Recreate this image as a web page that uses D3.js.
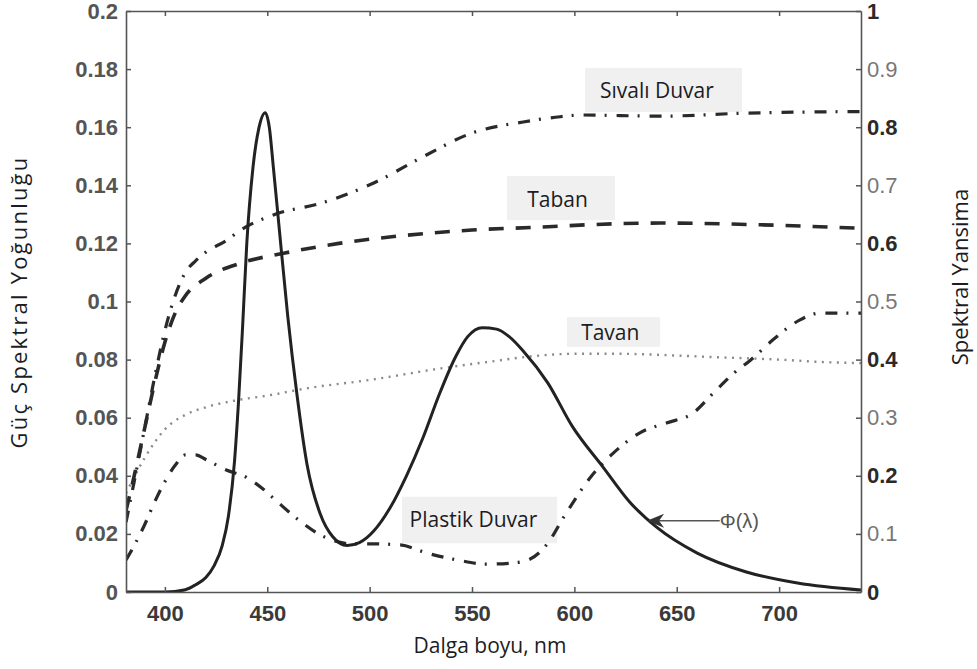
<!DOCTYPE html>
<html>
<head>
<meta charset="utf-8">
<script src="https://cdn.jsdelivr.net/npm/d3@7"></script>
<style>
  body { margin: 0; background: #fff; }
  .tick line { stroke: #555; stroke-width: 1.5; }
  .domain { stroke: #555; stroke-width: 1.6; }
</style>
</head>
<body>
<div id="chart"></div>
<script>
'use strict';

// wavelength (nm) and values
var phiNm  = [381, 400, 410, 415, 420, 424, 428, 431, 434, 436, 438, 440, 443, 446, 449, 451, 453, 456, 460, 464.5, 469.4, 475.8, 482, 489, 495, 502, 510, 518, 526, 534, 542, 548, 555, 562, 568, 575, 587, 599, 614, 627, 640, 660, 684, 709, 740];
var phiVal = [0, 0, 0.0008, 0.0025, 0.005, 0.009, 0.016, 0.026, 0.045, 0.066, 0.092, 0.12, 0.146, 0.16, 0.165, 0.16, 0.146, 0.124, 0.095, 0.068, 0.044, 0.027, 0.019, 0.016, 0.017, 0.021, 0.029, 0.04, 0.053, 0.068, 0.081, 0.088, 0.091, 0.0905, 0.088, 0.083, 0.072, 0.057, 0.043, 0.031, 0.0224, 0.0134, 0.0069, 0.0031, 0.0007];

var sivaliNm = [381, 385, 390, 395, 400, 405, 410, 415, 420, 430, 437, 453, 477, 502, 526, 550, 575, 593, 603, 642, 682, 740];
var sivaliR  = [0.12, 0.19, 0.28, 0.37, 0.45, 0.51, 0.55, 0.57, 0.585, 0.605, 0.623, 0.649, 0.67, 0.704, 0.749, 0.79, 0.809, 0.818, 0.821, 0.819, 0.824, 0.827];

var tabanNm = [381, 385, 390, 395, 400, 405, 410, 420, 437, 458, 485, 518, 550, 583, 606, 642, 691, 740];
var tabanR  = [0.14, 0.2, 0.28, 0.36, 0.43, 0.48, 0.51, 0.54, 0.566, 0.583, 0.6, 0.614, 0.623, 0.628, 0.632, 0.635, 0.632, 0.626];

var tavanNm = [381, 390, 400, 410, 420, 435, 450, 470, 500, 535, 560, 580, 600, 620, 650, 670, 700, 720, 740];
var tavanR  = [0.17, 0.23, 0.28, 0.305, 0.318, 0.33, 0.338, 0.351, 0.365, 0.385, 0.397, 0.406, 0.41, 0.41, 0.407, 0.404, 0.4, 0.396, 0.394];

var plastikNm = [381, 385, 390, 395, 400, 405, 410, 415, 420, 430, 440, 447, 455, 465, 475, 483, 490, 500, 515, 528, 543, 557, 570, 578, 587, 595, 608, 619, 632, 645, 658, 668, 678, 686, 697, 710, 720, 740];
var plastikR  = [0.055, 0.08, 0.115, 0.155, 0.19, 0.218, 0.236, 0.236, 0.228, 0.21, 0.197, 0.18, 0.155, 0.125, 0.1, 0.088, 0.083, 0.083, 0.081, 0.067, 0.055, 0.048, 0.05, 0.056, 0.084, 0.13, 0.198, 0.239, 0.274, 0.291, 0.308, 0.343, 0.377, 0.399, 0.434, 0.468, 0.48, 0.48];

var xTicks = [400, 450, 500, 550, 600, 650, 700];
var leftTicks = [0, 0.02, 0.04, 0.06, 0.08, 0.1, 0.12, 0.14, 0.16, 0.18, 0.2];
var rightTicks = [0, 0.1, 0.2, 0.3, 0.4, 0.5, 0.6, 0.7, 0.8, 0.9, 1];

var margin = { top: 11, right: 116, bottom: 77, left: 126 };
var width = 977 - margin.left - margin.right;
var height = 669 - margin.top - margin.bottom;

var x = d3.scaleLinear().domain([381, 740]).range([0, width]);
var yL = d3.scaleLinear().domain([0, 0.2]).range([height, 0]);
var yR = d3.scaleLinear().domain([0, 1]).range([height, 0]);

var svg = d3.select('#chart').append('svg')
    .attr('width', 977)
    .attr('height', 669);

var g = svg.append('g')
    .attr('transform', 'translate(' + margin.left + ',' + margin.top + ')');

svg.append('defs').append('clipPath')
    .attr('id', 'plot')
  .append('rect')
    .attr('width', width)
    .attr('height', height);

// label boxes sit under the curves
var labels = [
  { text: 'Sıvalı Duvar', x0: 605.2, x1: 681.9, y0: 0.902, y1: 0.826, tx: 612.5, ty: 0.85 },
  { text: 'Taban', x0: 567.1, x1: 619.9, y0: 0.716, y1: 0.64, tx: 577, ty: 0.663 },
  { text: 'Tavan', x0: 596.4, x1: 641.9, y0: 0.473, y1: 0.422, tx: 603.3, ty: 0.434 },
  { text: 'Plastik Duvar', x0: 515.8, x1: 591.6, y0: 0.164, y1: 0.084, tx: 519.5, ty: 0.112 }
];

var lab = g.append('g').selectAll('g')
    .data(labels)
    .enter().append('g');

lab.append('rect')
    .attr('x', function(d) { return x(d.x0); })
    .attr('y', function(d) { return yR(d.y0); })
    .attr('width', function(d) { return x(d.x1) - x(d.x0); })
    .attr('height', function(d) { return yR(d.y1) - yR(d.y0); })
    .attr('fill', '#f0f0f0');

lab.append('text')
    .attr('x', function(d) { return x(d.tx); })
    .attr('y', function(d) { return yR(d.ty); })
    .attr('font-family', 'Open Sans')
    .attr('font-size', 21)
    .attr('fill', '#1c1c24')
    .text(function(d) { return d.text; });

var curves = g.append('g').attr('clip-path', 'url(#plot)');

function zip(a, b) {
  return a.map(function(v, i) { return [v, b[i]]; });
}

var lineR = d3.line()
    .curve(d3.curveMonotoneX)
    .x(function(d) { return x(d[0]); })
    .y(function(d) { return yR(d[1]); });

var lineL = d3.line()
    .curve(d3.curveMonotoneX)
    .x(function(d) { return x(d[0]); })
    .y(function(d) { return yL(d[1]); });

var series = [
  { pts: zip(tavanNm, tavanR), dash: '2,5.5', w: 2.4, c: '#8a8a8a' },
  { pts: zip(tabanNm, tabanR), dash: '15,12', w: 3.6, c: '#2a2a2a' },
  { pts: zip(sivaliNm, sivaliR), dash: '12,9,2,10', w: 3.2, c: '#2a2a2a' },
  { pts: zip(plastikNm, plastikR), dash: '12,9,2,10', w: 3.2, c: '#2a2a2a' }
];

curves.selectAll('.refl')
    .data(series)
    .enter().append('path')
      .attr('class', 'refl')
      .attr('d', function(d) { return lineR(d.pts); })
      .attr('fill', 'none')
      .attr('stroke', function(d) { return d.c; })
      .attr('stroke-width', function(d) { return d.w; })
      .attr('stroke-dasharray', function(d) { return d.dash; });

curves.append('path')
    .datum(zip(phiNm, phiVal))
    .attr('d', lineL)
    .attr('fill', 'none')
    .attr('stroke', '#222')
    .attr('stroke-width', 3)
    .attr('stroke-linejoin', 'round');

// phi annotation arrow
var tipX = x(635.5), tipY = yL(0.0245), tailX = x(671);
g.append('line')
    .attr('x1', tipX + 10).attr('y1', tipY)
    .attr('x2', tailX).attr('y2', tipY)
    .attr('stroke', '#555')
    .attr('stroke-width', 1.5);
g.append('path')
    .attr('d', 'M0,0L17,-7L12,0L17,7Z')
    .attr('transform', 'translate(' + tipX + ',' + tipY + ')')
    .attr('fill', '#333');
g.append('text')
    .attr('x', tailX)
    .attr('y', tipY + 7)
    .attr('font-family', 'Liberation Sans')
    .attr('font-size', 20)
    .attr('fill', '#555')
    .text('Φ(λ)');

// axes, ticks point inward
var xAxis = d3.axisBottom(x).tickValues(xTicks).tickSizeInner(-5).tickSizeOuter(0).tickPadding(13);
var xTop = d3.axisTop(x).tickValues(xTicks).tickSizeInner(-5).tickSizeOuter(0).tickFormat('');
var yAxisL = d3.axisLeft(yL).tickValues(leftTicks).tickSizeInner(-5).tickSizeOuter(0).tickPadding(8).tickFormat(d3.format(''));
var yAxisR = d3.axisRight(yR).tickValues(rightTicks).tickSizeInner(-5).tickSizeOuter(0).tickPadding(6).tickFormat(d3.format(''));

g.append('g')
    .attr('class', 'axis axis--x')
    .attr('transform', 'translate(0,' + height + ')')
    .call(xAxis);

g.append('g')
    .attr('class', 'axis axis--top')
    .call(xTop);

g.append('g')
    .attr('class', 'axis axis--y')
    .call(yAxisL);

g.append('g')
    .attr('class', 'axis axis--yr')
    .attr('transform', 'translate(' + width + ',0)')
    .call(yAxisR);

g.selectAll('.axis text')
    .attr('font-family', 'Liberation Sans')
    .attr('font-size', 22)
    .attr('font-weight', 'bold')
    .attr('fill', '#3a3a3a');

g.selectAll('.axis--y text').attr('fill', '#555');

g.selectAll('.axis--yr text')
    .attr('fill', function(d, i) { return i % 2 === 0 ? '#2a2a2a' : '#777'; })
    .attr('font-weight', function(d, i) { return i % 2 === 0 ? 'bold' : 'normal'; });

// titles
svg.append('text')
    .attr('transform', 'translate(27,' + 302 + ') rotate(-90)')
    .attr('text-anchor', 'middle')
    .attr('font-family', 'Open Sans')
    .attr('font-size', 22)
    .attr('letter-spacing', 2.2)
    .attr('fill', '#1c1c24')
    .text('Güç Spektral Yoğunluğu');

svg.append('text')
    .attr('transform', 'translate(968,' + 277 + ') rotate(-90)')
    .attr('text-anchor', 'middle')
    .attr('font-family', 'Open Sans')
    .attr('font-size', 22)
    .attr('fill', '#1c1c24')
    .text('Spektral Yansima');

svg.append('text')
    .attr('x', 490)
    .attr('y', 653)
    .attr('text-anchor', 'middle')
    .attr('font-family', 'Open Sans')
    .attr('font-size', 21)
    .attr('fill', '#1c1c24')
    .text('Dalga boyu, nm');
</script>
</body>
</html>
